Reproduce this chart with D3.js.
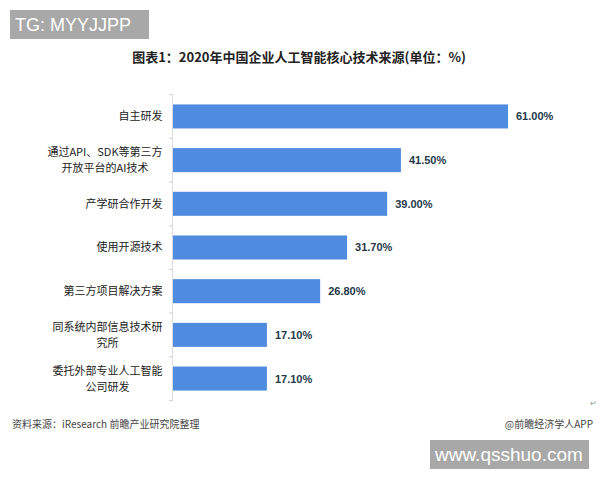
<!DOCTYPE html>
<html>
<head>
<meta charset="utf-8">
<script src="https://cdn.jsdelivr.net/npm/d3@7"></script>
<style>
  html, body { margin: 0; padding: 0; background: #fff; }
  svg { display: block; }
</style>
</head>
<body>
<svg id="chart" width="600" height="480"></svg>
<script>
const categories = [
  ["自主研发"],
  ["通过API、SDK等第三方", "开放平台的AI技术"],
  ["产学研合作开发"],
  ["使用开源技术"],
  ["第三方项目解决方案"],
  ["同系统内部信息技术研", "究所"],
  ["委托外部专业人工智能", "公司研发"]
];
const values = [61.0, 41.5, 39.0, 31.7, 26.8, 17.1, 17.1];
const valueLabels = ["61.00%", "41.50%", "39.00%", "31.70%", "26.80%", "17.10%", "17.10%"];
const titleText = "图表1：2020年中国企业人工智能核心技术来源(单位：%)";
const sourceText = "资料来源：iResearch 前瞻产业研究院整理";
const brandText = "@前瞻经济学人APP";

const svg = d3.select("#chart");
const cjk = "'Noto Sans CJK SC', 'Noto Sans', sans-serif";
const latin = "'Liberation Sans', Arial, sans-serif";

const keys = categories.map(c => c.join(""));
const x = d3.scaleLinear().domain([0, 61]).range([173, 508]);
const y = d3.scaleBand().domain(keys).range([94.6, 400.4]).paddingInner(0.45).paddingOuter(0.225);

// title
svg.append("text").attr("x", 299).attr("y", 62).attr("text-anchor", "middle")
  .attr("font-family", cjk).attr("font-weight", "bold").attr("font-size", 13)
  .attr("fill", "#222").text(titleText);

// axis line and boundary ticks
const g = svg.append("g");
g.append("line").attr("x1", 172.5).attr("x2", 172.5)
  .attr("y1", y.range()[0] - 1).attr("y2", y.range()[1] + 1)
  .attr("stroke", "#dcdcdc").attr("stroke-width", 1);
const bounds = keys.map(k => y(k) - y.step() * y.paddingInner() / 2).concat([y.range()[1]]);
g.selectAll("line.tick").data(bounds).enter().append("line").attr("class", "tick")
  .attr("x1", 169).attr("x2", 172.5).attr("y1", d => d).attr("y2", d => d)
  .attr("stroke", "#d0d0d0").attr("stroke-width", 1);

// bars
svg.selectAll("rect.bar").data(values).enter().append("rect").attr("class", "bar")
  .attr("x", x(0)).attr("y", (d, i) => y(keys[i]))
  .attr("width", d => x(d) - x(0)).attr("height", y.bandwidth())
  .attr("fill", "#4f8ce0");

// value labels
svg.selectAll("text.val").data(values).enter().append("text").attr("class", "val")
  .attr("x", d => x(d) + 8).attr("y", (d, i) => y(keys[i]) + y.bandwidth() / 2)
  .attr("dy", "0.36em").attr("font-family", latin).attr("font-weight", "bold")
  .attr("font-size", 11).attr("fill", "#24394a").text((d, i) => valueLabels[i]);

// category labels (one text element per category, lines as tspans)
const labelRight = 162.5;
const lineGap = 16;
categories.forEach((lines, i) => {
  const cy = y(keys[i]) + y.bandwidth() / 2;
  const t = svg.append("text")
    .attr("font-family", cjk).attr("font-size", 11).attr("fill", "#222")
    .attr("text-anchor", "middle");
  const spans = lines.map((ln, j) => t.append("tspan")
    .attr("y", cy + (j - (lines.length - 1) / 2) * lineGap).attr("dy", "0.36em").text(ln));
  const maxW = d3.max(spans, s => s.node().getComputedTextLength());
  spans.forEach(s => s.attr("x", labelRight - maxW / 2));
});

// footer
svg.append("text").attr("x", 12).attr("y", 424).attr("dy", "0.36em")
  .attr("font-family", cjk).attr("font-size", 10).attr("fill", "#444").text(sourceText);
svg.append("text").attr("x", 593).attr("y", 424).attr("dy", "0.36em").attr("text-anchor", "end")
  .attr("font-family", cjk).attr("font-size", 10).attr("fill", "#444").text(brandText);
svg.append("text").attr("x", 590).attr("y", 406).attr("font-family", cjk)
  .attr("font-size", 8).attr("fill", "#999").text("↵");

// overlay boxes
svg.append("rect").attr("x", 10).attr("y", 10).attr("width", 139).attr("height", 29).attr("fill", "#a8a8a8");
svg.append("text").attr("x", 15).attr("y", 31).attr("font-family", latin).attr("font-size", 18)
  .attr("fill", "#fff").text("TG: MYYJJPP");
svg.append("rect").attr("x", 430).attr("y", 440).attr("width", 159).attr("height", 29).attr("fill", "#a8a8a8");
svg.append("text").attr("x", 435).attr("y", 461).attr("font-family", latin).attr("font-size", 19)
  .attr("fill", "#fff").text("www.qsshuo.com");
</script>
</body>
</html>
